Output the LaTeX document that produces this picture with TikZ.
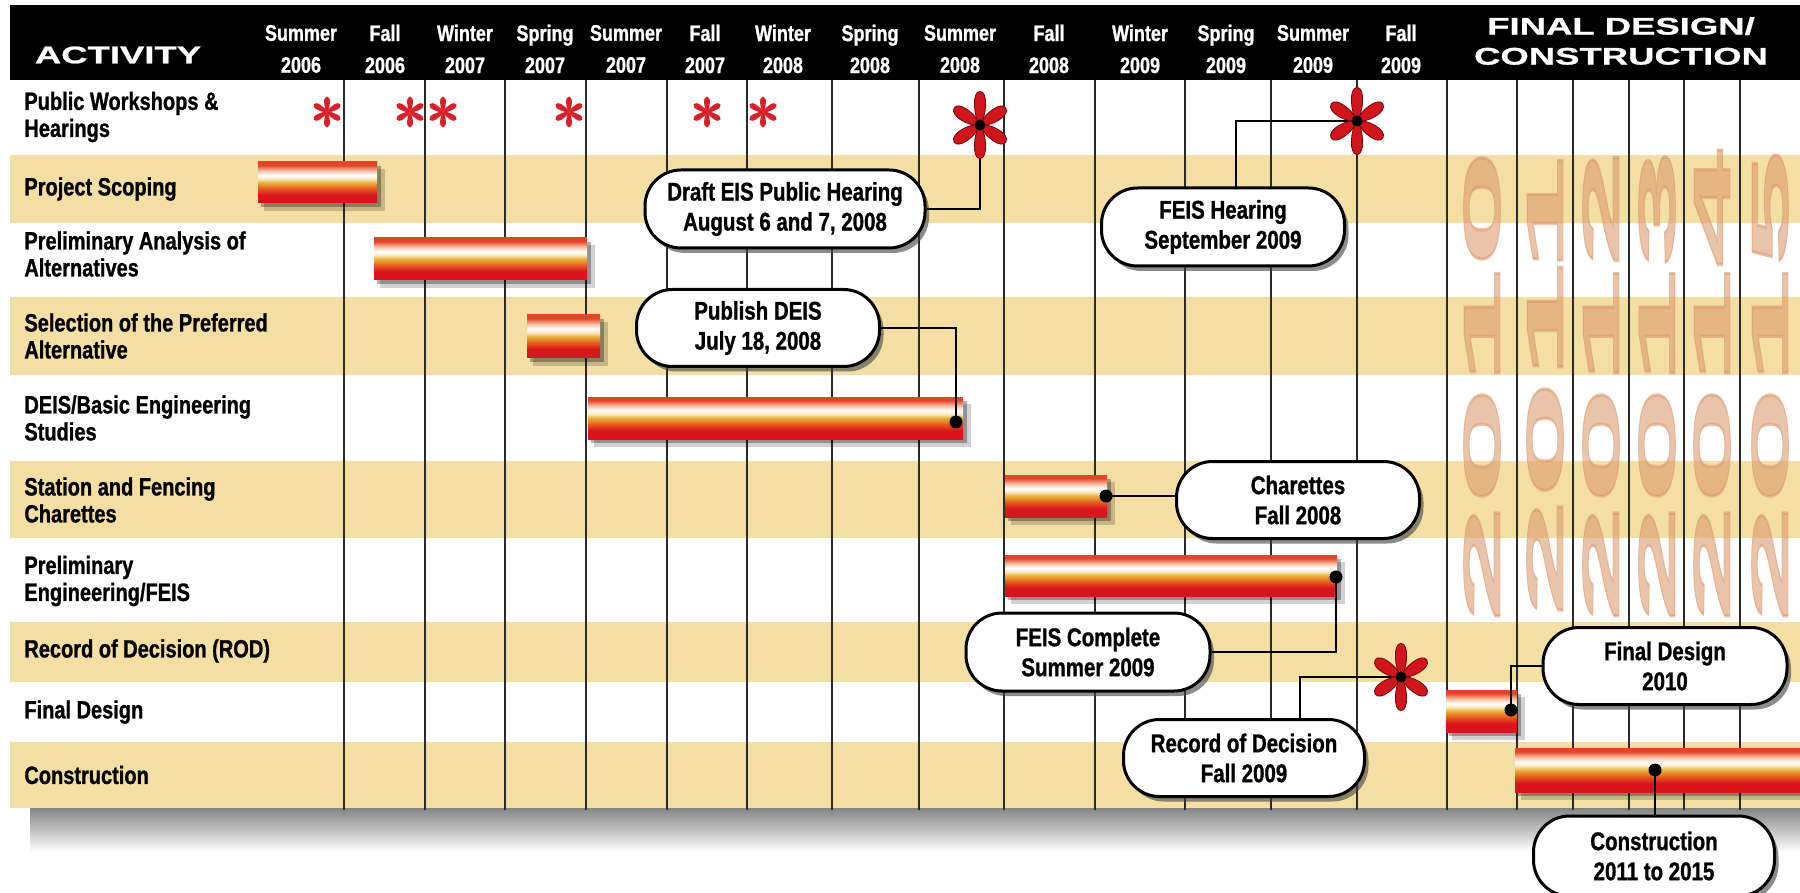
\documentclass[tikz,border=0pt]{standalone}
\usepackage{fontspec}
\setmainfont{Liberation Sans}
\newfontfamily\condf{Liberation Sans}[FakeStretch=0.8,FakeBold=1]
\newfontfamily\extf{Liberation Sans}[FakeStretch=1.52,FakeBold=1]
\newfontfamily\yearf{Liberation Sans}[FakeBold=1.5]
\usetikzlibrary{shadows}
\definecolor{tanrow}{HTML}{F3DEA4}
\definecolor{barred}{HTML}{D8141C}
\definecolor{barorange}{HTML}{E8601E}
\definecolor{bargold}{HTML}{E9B23A}
\definecolor{barcream}{HTML}{FBEBC8}
\definecolor{barpink}{HTML}{F6B89A}
\definecolor{bartop}{HTML}{E4442A}
\definecolor{yearcol}{RGB}{219,150,105}
\definecolor{flowerred}{HTML}{D0161C}
\definecolor{flowerdark}{HTML}{700808}
\definecolor{astred}{HTML}{D8202A}
\definecolor{gridcol}{HTML}{2A2A2A}
\pgfdeclareverticalshading{barshade}{100bp}{color(0bp)=(barred); color(25bp)=(barred); color(35bp)=(barred); color(43bp)=(barorange); color(50bp)=(bargold); color(55bp)=(barcream); color(59bp)=(white); color(65bp)=(barpink); color(71bp)=(bartop); color(100bp)=(bartop)}
\newcommand\mylblfont{\condf\bfseries\fontsize{12.5}{13.5}\selectfont}
\newcommand\myhdrfont{\condf\bfseries\fontsize{11.25}{16}\selectfont}
\newcommand\mycallfont{\condf\bfseries\fontsize{12.8}{15}\selectfont}
\newcommand\myextfont{\extf\bfseries\fontsize{12}{15}\selectfont}
\newcommand\myyearfont{\yearf\bfseries\fontsize{26}{28}\selectfont}
\tikzset{
  lbl/.style={anchor=west, inner sep=0pt, align=left, font=\mylblfont, text=black},
  hdr/.style={inner sep=0pt, align=center, font=\myhdrfont, text=white},
  bighdr/.style={inner sep=0pt, align=center, font=\myextfont, text=white},
  yearlbl/.style={rotate=90, inner sep=0pt, text=yearcol, text opacity=0.56, font=\myyearfont},
  gridline/.style={draw=gridcol, line width=0.7pt},
  callout/.style={draw=black, line width=1.5pt, fill=white, rounded corners=18pt, align=center,
    font=\mycallfont, inner sep=0pt,
    drop shadow={shadow xshift=2pt, shadow yshift=-2.5pt, fill=black!75, opacity=0.6}},
  conn/.style={draw=black, line width=1pt},
  dot/.style={circle, fill=black, inner sep=0pt, minimum size=6.5pt},
  fdot/.style={circle, fill=black, inner sep=0pt, minimum size=5.5pt},
  flowerpic/.pic={
    \foreach \a in {90,30,-30,-90,150,210}{
      \path[pic actions, rotate=\a] (0,0) .. controls (0.25,0.22) and (1.0,0.28) .. (1,0) .. controls (1.0,-0.28) and (0.25,-0.22) .. (0,0) -- cycle;
    }
  },
  bigflower/.style={scale=30, yscale=1.12, fill=flowerred, draw=flowerdark, line width=0.4pt},
  smallast/.style={scale=15.5, fill=astred}
}
\begin{document}
\begin{tikzpicture}[x=0.5pt, y=-0.5pt]
\useasboundingbox (0,0) rectangle (1800,893);
\fill[white] (0,0) rectangle (1800,893);
% table bottom shadow
\shade[top color=black!50, bottom color=white] (30,806) rectangle (1800,852);
% rows
\fill[white] (10,80) rectangle (1800,808);
\foreach \ya/\yb in {155/223, 297/375, 461/538, 622/682, 742/808}{
  \fill[tanrow] (10,\ya) rectangle (1800,\yb);
}
% header
\fill[black] (10,5) rectangle (1800,80);
% year digits
\foreach \x/\yr in {1482/2010, 1545/2011, 1601/2012, 1657/2013, 1712/2014, 1770/2015}{
  \node[yearlbl] (yr\yr) at (\x,386) {\scalebox{4.1}[1]{\yr}};
}
% grid lines
\foreach \x in {344,425,505,586,667,747,832,919,1004,1095,1185,1271,1357,1447,1517,1573,1629,1684,1740}{
  \draw[gridline] (\x,80) -- (\x,810);
}
% header texts
\node[bighdr] (act) at (118,55) {ACTIVITY};
\node[bighdr] (fdc) at (1621,41) {FINAL DESIGN/\\CONSTRUCTION};
\foreach \x/\s/\yr [count=\i] in {301/Summer/2006, 385/Fall/2006, 465/Winter/2007, 545/Spring/2007, 626/Summer/2007, 705/Fall/2007, 783/Winter/2008, 870/Spring/2008, 960/Summer/2008, 1049/Fall/2008, 1140/Winter/2009, 1226/Spring/2009, 1313/Summer/2009, 1401/Fall/2009}{
  \node[hdr] (h\i) at (\x,49) {\s\\\yr};
}
% row labels
\node[lbl] (l1) at (24,117) {Public Workshops \&\\Hearings};
\node[lbl] (l2) at (24,189) {Project Scoping};
\node[lbl] (l3) at (24,254) {Preliminary Analysis of\\Alternatives};
\node[lbl] (l4) at (24,336) {Selection of the Preferred\\Alternative};
\node[lbl] (l5) at (24,418) {DEIS/Basic Engineering\\Studies};
\node[lbl] (l6) at (24,500) {Station and Fencing\\Charettes};
\node[lbl] (l7) at (24,581) {Preliminary\\Engineering/FEIS};
\node[lbl] (l8) at (24,651) {Record of Decision (ROD)};
\node[lbl] (l9) at (24,712) {Final Design};
\node[lbl] (l10) at (24,775) {Construction};
% bars
\foreach \xa/\ya/\xb/\yb in {258/162/377/203, 374/238/587/280, 527/315/600/358, 588/397/963/439, 1005/475/1107/517, 1005/555/1337/596, 1446/690/1517/732, 1515/748/1800/792}{
  \fill[black, opacity=0.18] (\xa+6,\ya+7) rectangle (\xb+8,\yb+8);
  \fill[black, opacity=0.3] (\xa+3,\ya+4) rectangle (\xb+4,\yb+4);
  \shade[shading=barshade] (\xa,\ya) rectangle (\xb,\yb);
}
% callouts
\node[callout, minimum width=140pt, minimum height=39pt] (draft) at (785,209) {Draft EIS Public Hearing\\August 6 and 7, 2008};
\node[callout, minimum width=121.5pt, minimum height=38.5pt] (publish) at (758,328) {Publish DEIS\\July 18, 2008};
\node[callout, minimum width=121.5pt, minimum height=39pt] (feishear) at (1223,227) {FEIS Hearing\\September 2009};
\node[callout, minimum width=121.5pt, minimum height=38.5pt] (charettes) at (1298,500) {Charettes\\Fall 2008};
\node[callout, minimum width=122pt, minimum height=39pt] (feiscomp) at (1088,652) {FEIS Complete\\Summer 2009};
\node[callout, minimum width=120.5pt, minimum height=38.5pt] (record) at (1244,758) {Record of Decision\\Fall 2009};
\node[callout, minimum width=122pt, minimum height=38.5pt] (fdcall) at (1665,666) {Final Design\\2010};
\node[callout, minimum width=120.5pt, minimum height=40pt] (ccall) at (1654,856) {Construction\\2011 to 2015};
% anchor points
\coordinate (f1) at (980,125);
\coordinate (f2) at (1357,121);
\coordinate (f3) at (1401,677);
\coordinate (deisdot) at (956,422);
\coordinate (stdot) at (1106,496);
\coordinate (pedot) at (1336,577);
\coordinate (fddot) at (1511,710);
\coordinate (cdot) at (1655,770);
\coordinate (fhtop) at (1236,188);
\coordinate (rectop) at (1300,720);
% connectors
\draw[conn] (f1) |- (draft.east);
\draw[conn] (publish.east) -| (deisdot);
\draw[conn] (f2) -| (fhtop);
\draw[conn] (stdot) -- (charettes.west |- stdot);
\draw[conn] (pedot) |- (feiscomp.east);
\draw[conn] (f3) -| (rectop);
\draw[conn] (fddot) |- (fdcall.west);
\draw[conn] (cdot) -- (cdot |- ccall.north);
% dots
\node[dot] (d1) at (deisdot) {};
\node[dot] (d2) at (stdot) {};
\node[dot] (d3) at (pedot) {};
\node[dot] (d4) at (fddot) {};
\node[dot] (d5) at (cdot) {};
% flowers
\pic[bigflower] at (f1) {flowerpic};
\pic[bigflower] at (f2) {flowerpic};
\pic[bigflower] at (f3) {flowerpic};
\node[fdot] (fc1) at (f1) {};
\node[fdot] (fc2) at (f2) {};
\node[fdot] (fc3) at (f3) {};
% small asterisks
\foreach \x in {327,410,443,569,707,763}{
  \pic[smallast] at (\x,112) {flowerpic};
}
\end{tikzpicture}
\end{document}
